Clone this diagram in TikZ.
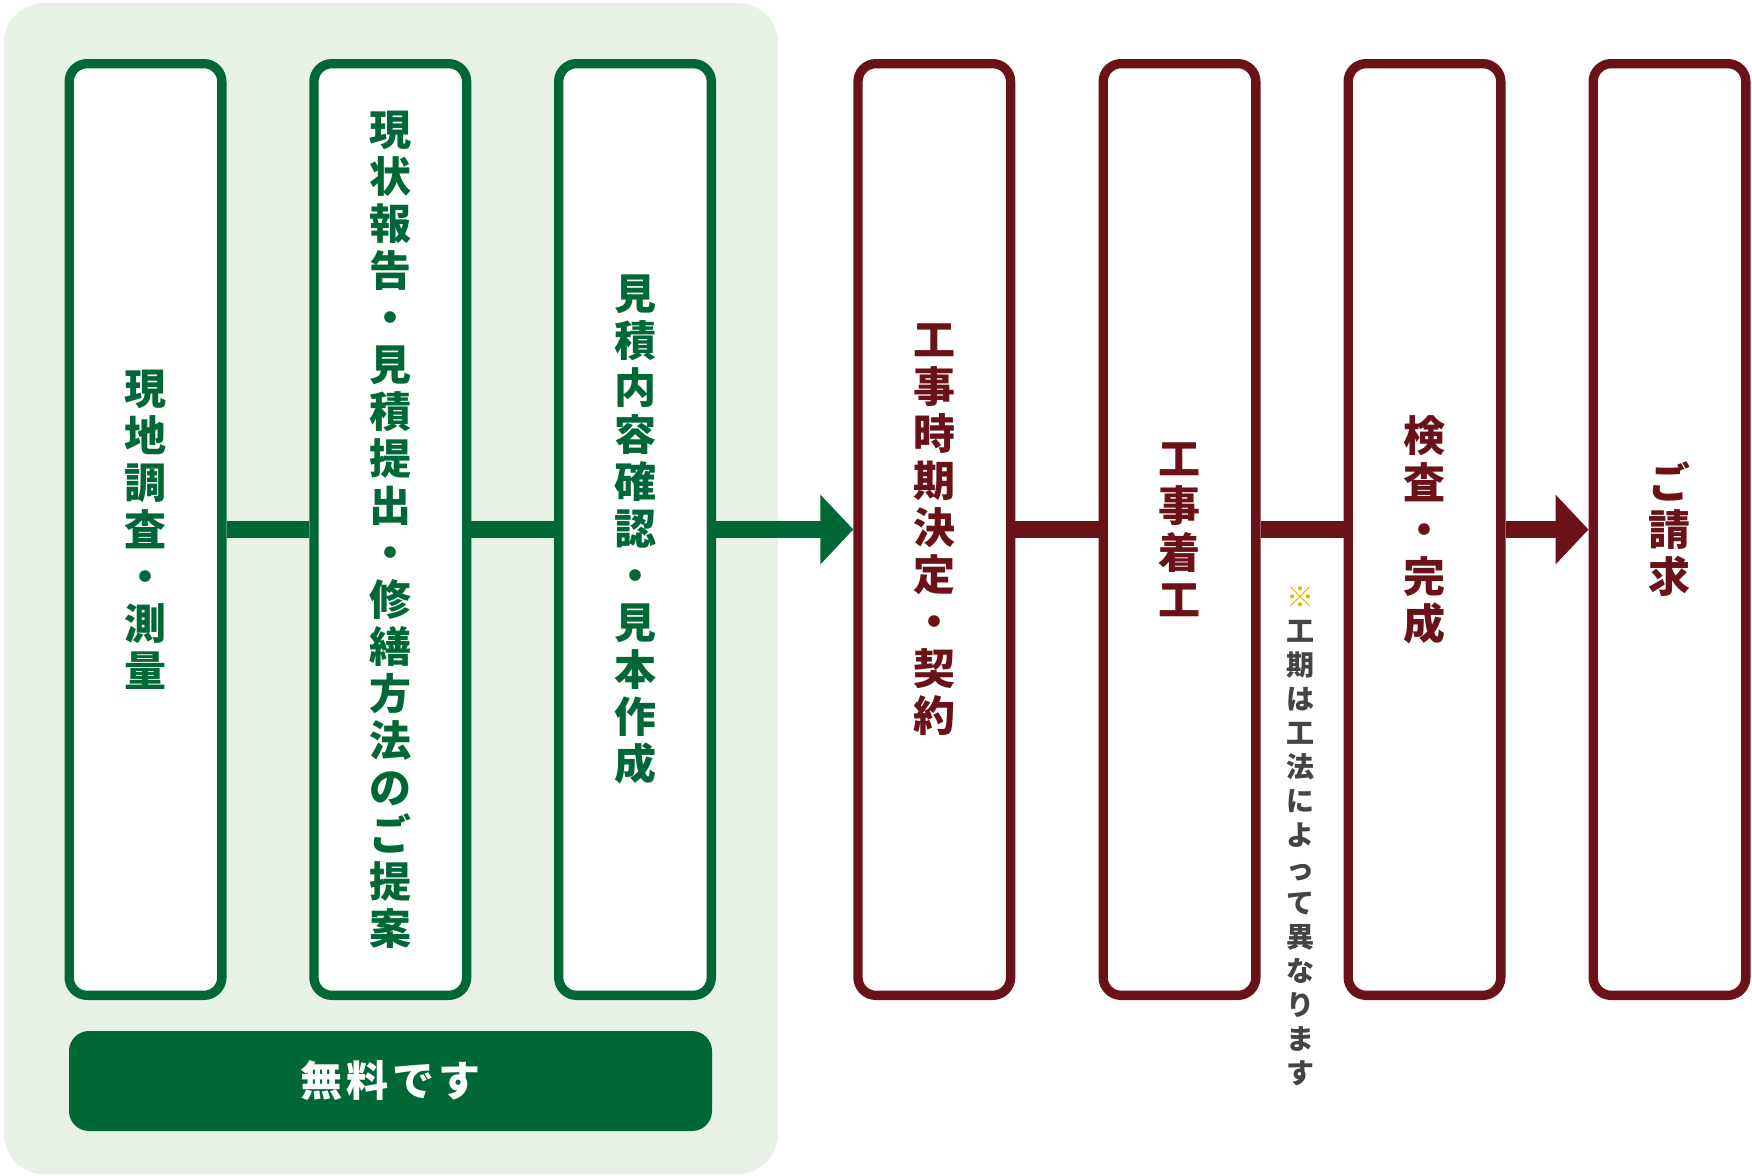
\documentclass[tikz,border=0pt]{standalone}
\usepackage{fontspec}
\setmainfont{Noto Sans CJK JP}
\definecolor{freeGreen}{RGB}{0, 104, 55}
\definecolor{workRed}{RGB}{106, 18, 24}
\definecolor{panelBg}{RGB}{231, 241, 229}
\definecolor{noteGray}{RGB}{68, 68, 68}
\definecolor{noteGold}{RGB}{232, 182, 0}
\usetikzlibrary{arrows.meta}

\begin{document}
\begin{tikzpicture}[x=1pt, y=-1pt,
        flowbox/.style={draw=#1, text=#1, fill=white, line width=9.3pt, rounded corners=18pt,
            minimum width=152.7pt, minimum height=931.7pt, inner sep=0pt,
            align=center, font=\fontsize{42}{47}\selectfont\bfseries},
        link/.style={line width=17pt},
        flowarrow/.style={line width=17pt, -{Triangle[length=33pt, width=68pt]}}]
        \useasboundingbox (0,0) rectangle (1752,1175);

        % Free steps (green panel)
        \fill[panelBg, rounded corners=40pt] (4,3) rectangle (778,1174);
        \foreach \i/\xc/\txt in {
            1/145.5/{現\\地\\調\\査\\・\\測\\量},
            2/390.3/{現\\状\\報\\告\\・\\見\\積\\提\\出\\・\\修\\繕\\方\\法\\の\\ご\\提\\案},
            3/635/{見\\積\\内\\容\\確\\認\\・\\見\\本\\作\\成}} {
            \node[flowbox=freeGreen] (g\i) at (\xc,529.5) {\txt};
        }
        \node[fill=freeGreen, rounded corners=20pt, minimum width=643pt, minimum height=100pt,
            text=white, font=\fontsize{42}{47}\selectfont\bfseries\addfontfeatures{LetterSpace=10}]
            (free) at (390.5,1081) {無料です};

        % Work steps
        \foreach \i/\xc/\txt in {
            1/934.3/{工\\事\\時\\期\\決\\定\\・\\契\\約},
            2/1179.5/{工\\事\\着\\工},
            3/1424.5/{検\\査\\・\\完\\成},
            4/1669.5/{ご\\請\\求}} {
            \node[flowbox=workRed] (r\i) at (\xc,529.5) {\txt};
        }

        % Connectors
        \draw[link, freeGreen] (g1) -- (g2);
        \draw[link, freeGreen] (g2) -- (g3);
        \draw[flowarrow, freeGreen] (g3) -- (r1);
        \draw[link, workRed] (r1) -- (r2);
        \draw[link, workRed] (r2) -- (r3);
        \draw[flowarrow, workRed] (r3) -- (r4);

        % Note
        \node[text=noteGray, align=center, font=\fontsize{28}{34}\selectfont\bfseries]
            (note) at (1300,836)
            {{\color{noteGold}※}\\工\\期\\は\\工\\法\\に\\よ\\っ\\て\\異\\な\\り\\ま\\す};
    \end{tikzpicture}
\end{document}
